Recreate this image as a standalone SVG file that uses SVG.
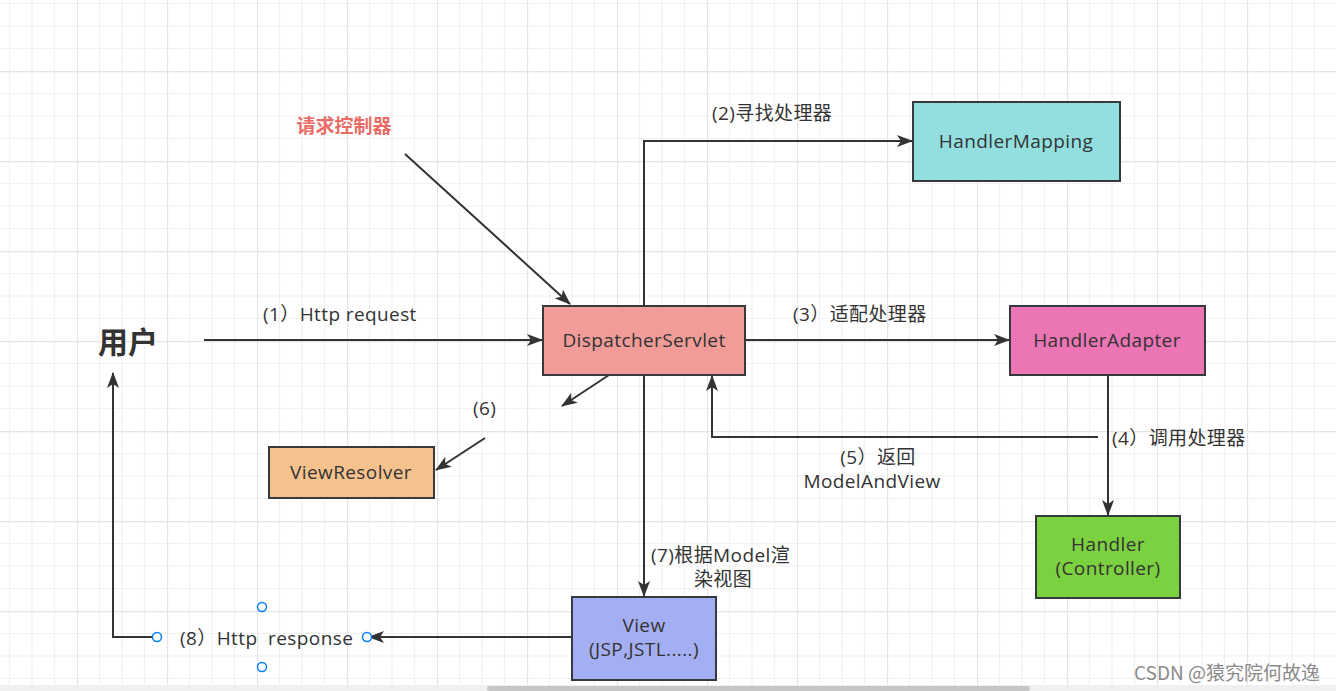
<svg xmlns="http://www.w3.org/2000/svg" width="1336" height="691" viewBox="0 0 1336 691">
<style>
.t{font-family:"Open Sans","Noto Sans CJK SC",sans-serif;font-size:19px;letter-spacing:0.4px;fill:#333;}
.c{text-anchor:middle;}
.box{stroke:#36393d;stroke-width:2;}
.ln{fill:none;stroke:#333;stroke-width:2;}
.h{fill:#fff;stroke:#007fff;stroke-width:1.5;}
</style>
<defs>
<pattern id="grid" x="77" y="71" width="90" height="90" patternUnits="userSpaceOnUse">
<path d="M22.5 0V90M45 0V90M67.5 0V90M0 22.5H90M0 45H90M0 67.5H90" stroke="#f1f1f1" stroke-width="1.2" fill="none"/>
<path d="M0.5 0V90M0 0.5H90" stroke="#e4e4e4" stroke-width="1.3" fill="none"/>
</pattern>
<marker id="ar" markerWidth="16" markerHeight="12" refX="15" refY="6" orient="auto" markerUnits="userSpaceOnUse">
<path d="M0,0 L16,6 L0,12 L4,6 Z" fill="#333"/>
</marker>
</defs>
<rect width="1336" height="691" fill="#fff"/>
<rect width="1336" height="691" fill="url(#grid)"/>

<g id="connectors">
<path class="ln" d="M405,154 L570,304" marker-end="url(#ar)"/>
<path class="ln" d="M644,306 V141 H912" marker-end="url(#ar)"/>
<path class="ln" d="M204,340 H542" marker-end="url(#ar)"/>
<path class="ln" d="M745,340 H1009" marker-end="url(#ar)"/>
<path class="ln" d="M1108,375 V515" marker-end="url(#ar)"/>
<path class="ln" d="M1098,437 H712 V376" marker-end="url(#ar)"/>
<path class="ln" d="M609,375 L562,406" marker-end="url(#ar)"/>
<path class="ln" d="M485,438 L436,470" marker-end="url(#ar)"/>
<path class="ln" d="M644,375 V596" marker-end="url(#ar)"/>
<path class="ln" d="M571,637 H369" marker-end="url(#ar)"/>
<path class="ln" d="M157,637 H113 V373" marker-end="url(#ar)"/>
<text class="t" x="712" y="120">(2)寻找处理器</text>
<text class="t" x="263" y="321">(1）Http request</text>
<text class="t" x="793" y="321">(3）适配处理器</text>
<text class="t" x="1112" y="445">(4）调用处理器</text>
<text class="t c" x="878" y="464">(5）返回</text>
<text class="t c" x="872" y="488">ModelAndView</text>
<text class="t" x="473" y="415">(6)</text>
<text class="t" x="651" y="562">(7)根据Model渲</text>
<text class="t c" x="723" y="586">染视图</text>
<text class="t" x="180" y="645" style="white-space:pre" xml:space="preserve">(8）Http  response</text>
</g>

<g id="label-controller">
<text x="344" y="133" class="c" style="font-family:'Noto Sans CJK SC',sans-serif;font-size:19px;font-weight:bold;fill:#ea6b66">请求控制器</text>
</g>
<g id="user">
<text x="128" y="353" class="c" style="font-family:'Noto Sans CJK SC',sans-serif;font-size:30px;font-weight:bold;fill:#333">用户</text>
</g>
<g id="dispatcher">
<rect class="box" x="543" y="306" width="202" height="69" fill="#f19c99"/>
<text class="t c" x="644" y="347">DispatcherServlet</text>
</g>
<g id="handlerMapping">
<rect class="box" x="913" y="102" width="207" height="79" fill="#93dfe0"/>
<text class="t c" x="1016" y="148">HandlerMapping</text>
</g>
<g id="handlerAdapter">
<rect class="box" x="1010" y="306" width="195" height="69" fill="#ec75b4"/>
<text class="t c" x="1107" y="347">HandlerAdapter</text>
</g>
<g id="handler">
<rect class="box" x="1036" y="516" width="144" height="82" fill="#7bd140"/>
<text class="t c" x="1108" y="551">Handler</text>
<text class="t c" x="1108" y="575">(Controller)</text>
</g>
<g id="viewResolver">
<rect class="box" x="269" y="447" width="165" height="51" fill="#f5c28e"/>
<text class="t c" x="351" y="479">ViewResolver</text>
</g>
<g id="view">
<rect class="box" x="572" y="597" width="144" height="83" fill="#a4aef2"/>
<text class="t c" x="644" y="632">View</text>
<text class="t c" x="644" y="656">(JSP,JSTL.....)</text>
</g>
<g id="handles">
<circle class="h" cx="157" cy="637" r="4.5"/>
<circle class="h" cx="367" cy="637" r="4.5"/>
<circle class="h" cx="262" cy="607" r="4.5"/>
<circle class="h" cx="262" cy="667" r="4.5"/>
</g>
<g id="chrome">
<text x="1320" y="680" style="font-family:'Noto Sans CJK SC',sans-serif;font-size:19px;fill:#8a8a8a;text-anchor:end;stroke:#fff;stroke-width:0.6;paint-order:stroke">CSDN @猿究院何故逸</text>
<rect x="0" y="685" width="1336" height="6" fill="#f0f0f0"/>
<rect x="487" y="686" width="543" height="5" rx="2.5" fill="#c6c6c6"/>
</g>
</svg>
